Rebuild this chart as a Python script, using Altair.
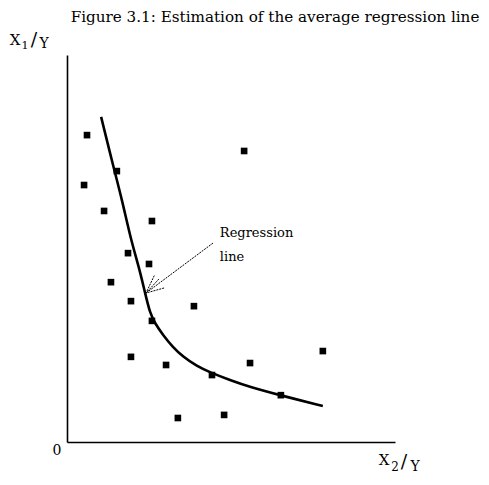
import altair as alt
import pandas as pd

# Scatter observations (X2/Y, X1/Y) in arbitrary units (axes 0..10)
obs_x = [0.61, 0.52, 1.52, 1.13, 2.59, 1.86, 2.50, 1.34, 5.40, 1.95,
         3.87, 2.59, 1.95, 3.02, 5.58, 7.80, 4.42, 6.52, 3.38, 4.79]
obs_y = [7.93, 6.64, 7.00, 5.97, 5.71, 4.88, 4.60, 4.13, 7.52, 3.64,
         3.51, 3.13, 2.20, 1.99, 2.04, 2.35, 1.73, 1.21, 0.62, 0.70]

# Regression line (hand drawn curve)
line_x = [1.04, 1.40, 1.68, 1.95, 2.20, 2.38, 2.53, 2.68, 2.93, 3.23, 3.54,
          3.96, 4.36, 4.97, 5.58, 6.49, 7.80]
line_y = [8.40, 7.16, 6.25, 5.22, 4.50, 3.85, 3.33, 3.07, 2.76, 2.45, 2.20,
          1.96, 1.80, 1.60, 1.42, 1.21, 0.93]

# Annotation arrow segments: (x, y, x2, y2)
arrow_x = [4.45, 2.80, 2.96, 2.66]
arrow_y = [5.14, 4.21, 3.98, 4.30]
arrow_x2 = [2.41, 2.41, 2.41, 2.41]
arrow_y2 = [3.85, 3.85, 3.85, 3.85]

label_lines = ["Regression", "line"]
label_x = [4.66, 4.66]
label_y = [5.40, 4.78]

title_text = "Figure 3.1: Estimation of the average regression line"

W, H = 328, 387
FONT = "DejaVu Serif"

xs = alt.Scale(domain=[0, 10], nice=False, zero=False)
ys = alt.Scale(domain=[0, 10], nice=False, zero=False)
ax = alt.Axis(domain=True, domainColor="black", domainWidth=1.6, ticks=False,
              labels=False, grid=False, title=None)

obs = pd.DataFrame({"x": obs_x, "y": obs_y})
reg = pd.DataFrame({"x": line_x, "y": line_y})
arr = pd.DataFrame({"x": arrow_x, "y": arrow_y, "x2": arrow_x2, "y2": arrow_y2})
lab = pd.DataFrame({"x": label_x, "y": label_y, "t": label_lines})
one = pd.DataFrame({"a": [0]})

points = alt.Chart(obs).mark_point(shape="square", filled=True, color="black",
                                   size=44, opacity=1).encode(
    x=alt.X("x:Q", scale=xs, axis=ax),
    y=alt.Y("y:Q", scale=ys, axis=ax),
)

curve = alt.Chart(reg).mark_line(color="black", strokeWidth=2.6,
                                 interpolate="basis").encode(
    x=alt.X("x:Q", scale=xs), y=alt.Y("y:Q", scale=ys))

arrows = alt.Chart(arr).mark_rule(color="black", strokeWidth=1,
                                  strokeDash=[2, 1]).encode(
    x=alt.X("x:Q", scale=xs), y=alt.Y("y:Q", scale=ys),
    x2="x2:Q", y2="y2:Q")

labels = alt.Chart(lab).mark_text(font=FONT, fontSize=13, align="left",
                                  baseline="middle", color="black").encode(
    x=alt.X("x:Q", scale=xs), y=alt.Y("y:Q", scale=ys), text="t:N")


def txt(s, x, y, size=14, align="center"):
    return alt.Chart(one).mark_text(font=FONT, fontSize=size, align=align,
                                    baseline="middle", color="black").encode(
        x=alt.value(x), y=alt.value(y), text=alt.value(s))


annots = [
    txt(title_text, 208, -38, 15.2),
    txt("X", -52, -15, 15),
    txt("1", -42, -9, 11),
    txt("/", -33, -15, 19),
    txt("Y", -23, -11, 14),
    txt("0", -10, 396, 14),
    txt("X", 317, 405, 15),
    txt("2", 328, 412, 12),
    txt("/", 337, 407, 19),
    txt("Y", 348, 412, 14),
]

chart = alt.layer(points, curve, arrows, labels, *annots).properties(
    width=W, height=H,
    autosize=alt.AutoSizeParams(type="none"),
    padding={"left": 59, "top": 47, "right": 86, "bottom": 35},
).configure_view(stroke=None)

chart.save("out.html", embed_options={"renderer": "svg", "actions": False})
